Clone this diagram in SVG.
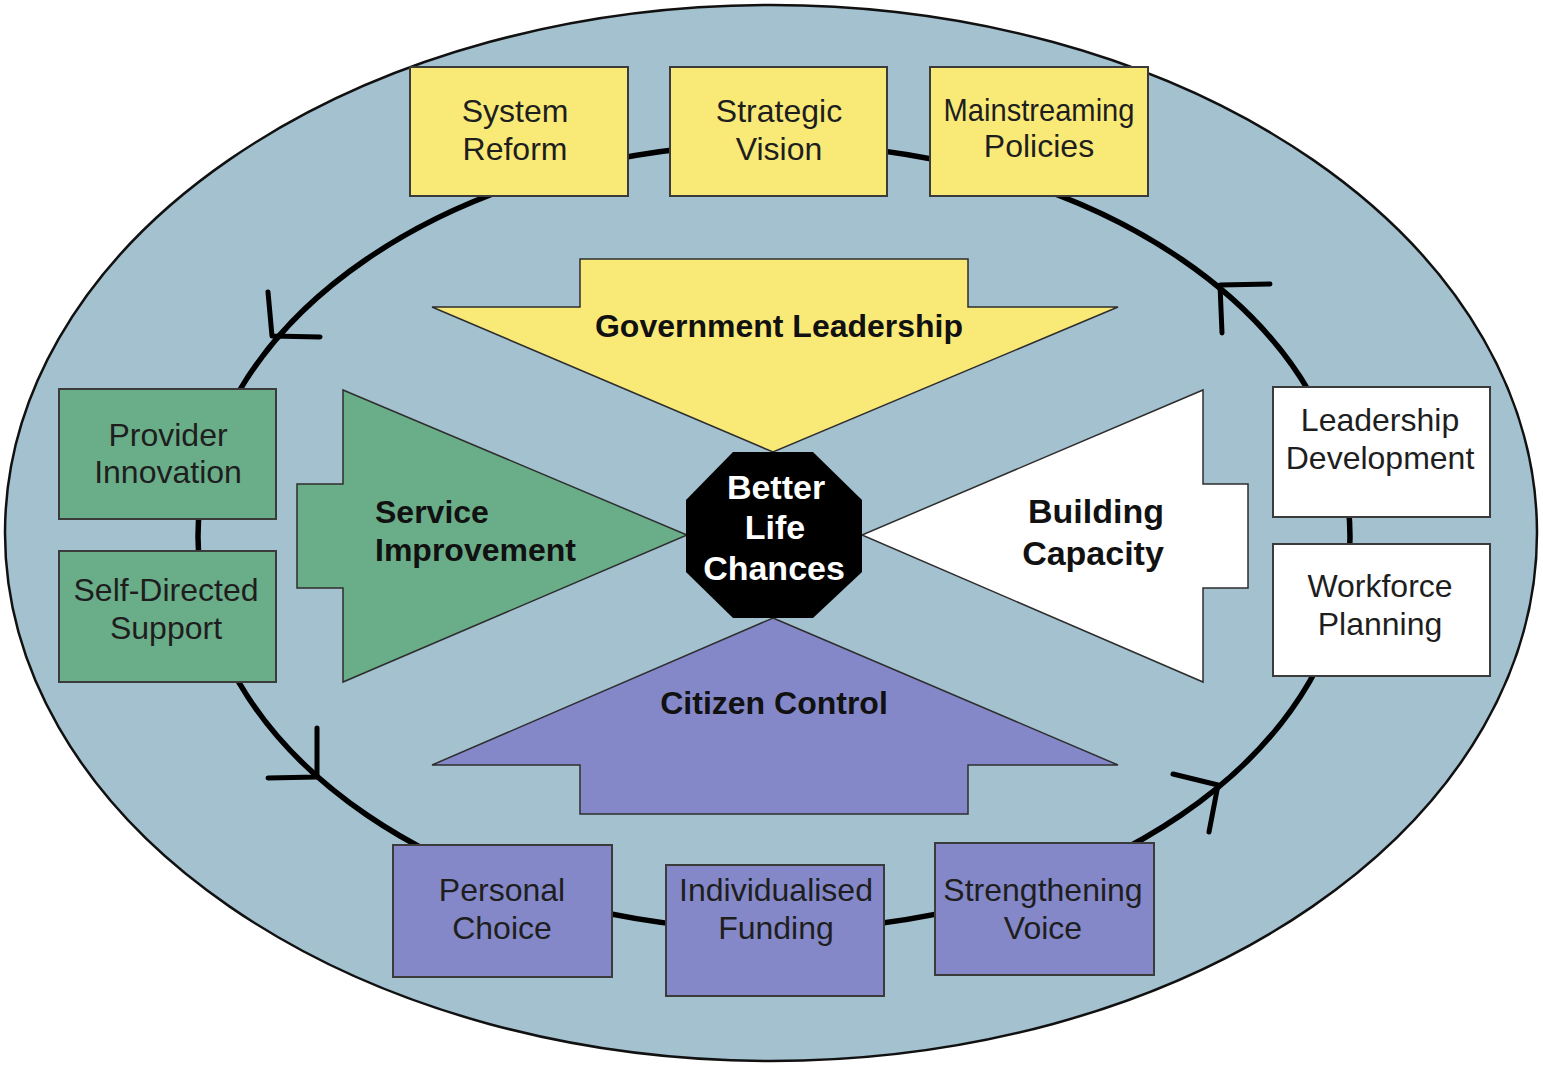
<svg xmlns="http://www.w3.org/2000/svg" width="1543" height="1067" viewBox="0 0 1543 1067">
<style>
.box{stroke:#3b3b3b;stroke-width:2}
.y{fill:#f9ea78}.g{fill:#6aad89}.w{fill:#ffffff}.p{fill:#8488c8}
.bt{font-family:"Liberation Sans",Arial,sans-serif;font-size:32px;fill:#1e1e1e;text-anchor:middle}
.at{font-family:"Liberation Sans",Arial,sans-serif;font-size:32px;font-weight:bold;fill:#111;text-anchor:middle}
.big{stroke:#2e2e2e;stroke-width:1.5}
.ah{fill:none;stroke:#000;stroke-width:5;stroke-linecap:round;stroke-linejoin:round}
</style>
<rect width="1543" height="1067" fill="#ffffff"/>
<ellipse id="outer" cx="771" cy="533" rx="766" ry="528" fill="#a3c1cf" stroke="#111" stroke-width="2.5"/>
<g id="connectors">
<ellipse cx="774" cy="537" rx="576" ry="393" fill="none" stroke="#000" stroke-width="5.5"/>
<polyline class="ah" points="268,292 272,336 320,337"/>
<polyline class="ah" points="1270,284 1220,285 1222,333"/>
<polyline class="ah" points="317,728 317,777 268,778"/>
<polyline class="ah" points="1173,774 1218,785 1209,832"/>
</g>
<g id="government-leadership">
<polygon class="big y" points="580,259 968,259 968,307 1118,307 773,452 432,307 580,307"/>
<text class="at" x="779" y="337">Government Leadership</text>
</g>
<g id="citizen-control">
<polygon class="big p" points="773,618 1118,765 968,765 968,814 580,814 580,765 432,765"/>
<text class="at" x="774" y="714">Citizen Control</text>
</g>
<g id="service-improvement">
<polygon class="big g" points="343,390 687,535 343,682 343,588 297,588 297,484 343,484"/>
<text class="at" x="375" y="523" style="text-anchor:start">Service</text>
<text class="at" x="375" y="561" style="text-anchor:start">Improvement</text>
</g>
<g id="building-capacity">
<polygon class="big w" points="1203,390 1203,484 1248,484 1248,588 1203,588 1203,682 862,535"/>
<text class="at" x="1096" y="523" style="font-size:34px">Building</text>
<text class="at" x="1093" y="565" style="font-size:34px">Capacity</text>
</g>
<g id="better-life-chances">
<polygon points="733,452 813,452 862,500 862,572 813,618 733,618 686,572 686,500" fill="#000"/>
<text class="at" x="776" y="499" style="fill:#fff;font-size:34px">Better</text>
<text class="at" x="775" y="539" style="fill:#fff;font-size:34px">Life</text>
<text class="at" x="774" y="580" style="fill:#fff;font-size:34px">Chances</text>
</g>
<g id="system-reform">
<rect class="box y" x="410" y="67" width="218" height="129"/>
<text class="bt" x="515" y="122">System</text>
<text class="bt" x="515" y="160">Reform</text>
</g>
<g id="strategic-vision">
<rect class="box y" x="670" y="67" width="217" height="129"/>
<text class="bt" x="779" y="122">Strategic</text>
<text class="bt" x="779" y="160">Vision</text>
</g>
<g id="mainstreaming-policies">
<rect class="box y" x="930" y="67" width="218" height="129"/>
<text class="bt" x="1039" y="121" textLength="191" lengthAdjust="spacingAndGlyphs">Mainstreaming</text>
<text class="bt" x="1039" y="157">Policies</text>
</g>
<g id="provider-innovation">
<rect class="box g" x="59" y="389" width="217" height="130"/>
<text class="bt" x="168" y="446">Provider</text>
<text class="bt" x="168" y="483">Innovation</text>
</g>
<g id="self-directed-support">
<rect class="box g" x="59" y="551" width="217" height="131"/>
<text class="bt" x="166" y="601">Self-Directed</text>
<text class="bt" x="166" y="639">Support</text>
</g>
<g id="leadership-development">
<rect class="box w" x="1273" y="387" width="217" height="130"/>
<text class="bt" x="1380" y="431">Leadership</text>
<text class="bt" x="1380" y="469">Development</text>
</g>
<g id="workforce-planning">
<rect class="box w" x="1273" y="544" width="217" height="132"/>
<text class="bt" x="1380" y="597">Workforce</text>
<text class="bt" x="1380" y="635">Planning</text>
</g>
<g id="personal-choice">
<rect class="box p" x="393" y="845" width="219" height="132"/>
<text class="bt" x="502" y="901">Personal</text>
<text class="bt" x="502" y="939">Choice</text>
</g>
<g id="individualised-funding">
<rect class="box p" x="666" y="865" width="218" height="131"/>
<text class="bt" x="776" y="901">Individualised</text>
<text class="bt" x="776" y="939">Funding</text>
</g>
<g id="strengthening-voice">
<rect class="box p" x="935" y="843" width="219" height="132"/>
<text class="bt" x="1043" y="901">Strengthening</text>
<text class="bt" x="1043" y="939">Voice</text>
</g>
</svg>
